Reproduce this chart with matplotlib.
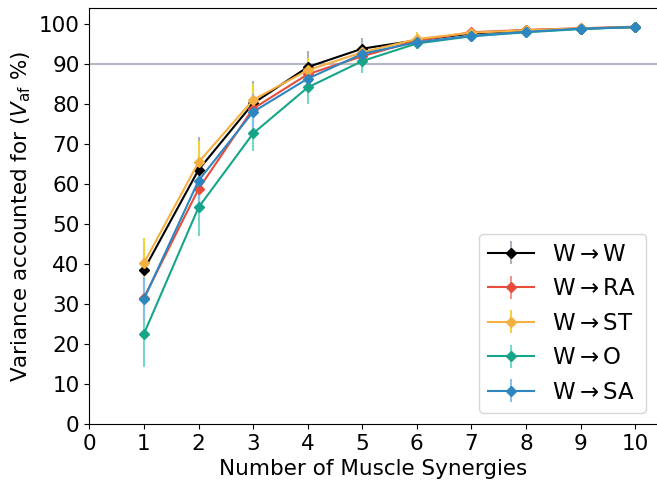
import matplotlib
matplotlib.use('Agg')
import matplotlib.pyplot as plt
import numpy as np

synergies = np.arange(1, 11)

labels = [r'W$\rightarrow$W', r'W$\rightarrow$RA', r'W$\rightarrow$ST', r'W$\rightarrow$O', r'W$\rightarrow$SA']

vaf_w = [38.6, 63.6, 80.2, 89.3, 93.9, 96.0, 97.7, 98.5, 98.9, 99.3]
vaf_ra = [31.6, 58.8, 78.9, 87.5, 92.0, 95.9, 98.0, 98.6, 99.0, 99.4]
vaf_st = [40.3, 65.5, 81.1, 88.5, 93.0, 96.3, 97.9, 98.5, 99.0, 99.3]
vaf_o = [22.6, 54.2, 72.7, 84.2, 90.8, 95.2, 97.0, 98.0, 98.8, 99.3]
vaf_sa = [31.3, 60.9, 78.1, 86.4, 92.6, 95.5, 97.1, 98.1, 98.9, 99.3]

err_w = [5.5, 8.3, 5.5, 4.0, 2.6, 1.6, 1.0, 0.6, 0.4, 0.3]
err_ra = [5.0, 6.0, 4.5, 3.5, 2.2, 1.3, 0.8, 0.5, 0.4, 0.3]
err_st = [6.2, 5.2, 4.0, 3.0, 2.0, 1.8, 0.9, 0.6, 0.4, 0.3]
err_o = [8.3, 7.1, 4.5, 4.2, 2.9, 1.5, 0.9, 0.6, 0.4, 0.3]
err_sa = [5.5, 5.5, 4.5, 3.5, 2.2, 1.3, 0.8, 0.5, 0.4, 0.3]

colors = ['#000000', '#e74c3c', '#f5b041', '#17a589', '#2e86c1']
err_colors = ['#abb2b9', '#f1948a', '#f4d03f', '#76d7c4', '#85c1e9']

fig, ax = plt.subplots(figsize=(6.57, 4.87), dpi=100)
fig.subplots_adjust(left=0.136, right=1.0, top=0.983, bottom=0.129)

ax.axhline(90, color='#b3b9c2', lw=1.5, zorder=0)

series = [vaf_w, vaf_ra, vaf_st, vaf_o, vaf_sa]
errs = [err_w, err_ra, err_st, err_o, err_sa]
for vals, e, lab, c, ec in zip(series, errs, labels, colors, err_colors):
    ax.errorbar(synergies, vals, yerr=e, color=c, ecolor=ec, elinewidth=1.5,
                marker='D', markersize=5, lw=1.5, label=lab)

ax.set_xlim(0, 10.4)
ax.set_ylim(0, 104)
ax.set_xticks(range(0, 11))
ax.set_yticks(range(0, 101, 10))
ax.tick_params(labelsize=15.5)
ax.spines['right'].set_visible(False)
ax.set_xlabel('Number of Muscle Synergies', fontsize=15.5)
ax.set_ylabel(r'Variance accounted for ($V_{\mathrm{af}}$ %)', fontsize=15.5)
ax.legend(loc='lower right', fontsize=16.5, handlelength=2.0)

plt.savefig('out.png', dpi=100)
